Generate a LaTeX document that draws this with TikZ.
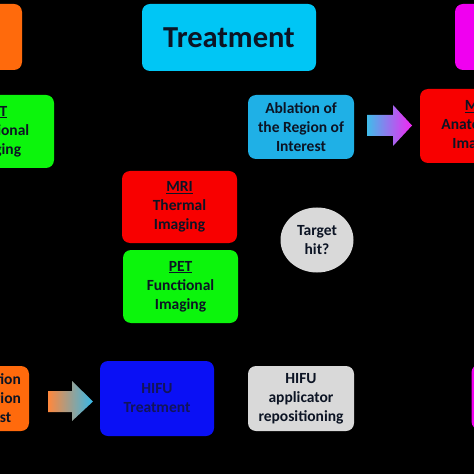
\documentclass[tikz,border=0pt]{standalone}
\usepackage{fontspec}
\setmainfont{Carlito}
\usetikzlibrary{shapes.geometric}

\definecolor{planorange}{HTML}{FF6A0C}
\definecolor{treatcyan}{HTML}{00C6F5}
\definecolor{evalmagenta}{HTML}{F000F0}
\definecolor{petgreen}{HTML}{0CF50C}
\definecolor{ablblue}{HTML}{1FB0E6}
\definecolor{mrired}{HTML}{F80000}
\definecolor{hifublue}{HTML}{0A10F5}
\definecolor{softgray}{HTML}{D9D9D9}
\definecolor{textdark}{HTML}{0C1424}
\definecolor{hifutext}{HTML}{12145A}

\tikzset{
    flow box/.style={
      rounded corners=8bp,
      align=center,
      inner sep=0pt,
      text=textdark,
      font=\bfseries\fontsize{15.5bp}{19bp}\selectfont
    },
    phase box/.style={
      flow box,
      font=\bfseries\fontsize{30.5bp}{35bp}\selectfont
    },
    check node/.style={
      ellipse,
      inner sep=0pt,
      text=textdark,
      align=center,
      font=\bfseries\fontsize{15.5bp}{19bp}\selectfont
    }
  }

\begin{document}
\begin{tikzpicture}[x=1bp,y=-1bp]
      \useasboundingbox (0,0) rectangle (474,474);
      \fill[black] (0,0) rectangle (474,474);
      \clip (0,0) rectangle (474,474);

      % Phasen
      \node[phase box, fill=planorange, minimum width=116bp, minimum height=66bp] (planbox) at (-36,37) {};
      \node[phase box, fill=treatcyan, minimum width=174bp, minimum height=67bp] (treat) at (229,37.5) {Treatment};
      \node[phase box, fill=evalmagenta, minimum width=116bp, minimum height=66bp] (evalbox) at (513,37) {};

      % Bildgebung
      \node[flow box, fill=petgreen, minimum width=117bp, minimum height=73bp] (petleft) at (-4.5,131.5) {\underline{PET}\\Functional\\Imaging};
      \node[flow box, fill=ablblue, minimum width=106bp, minimum height=64bp] (abl) at (301,127) {Ablation of\\the Region of\\Interest};
      \node[flow box, fill=mrired, minimum width=116bp, minimum height=74bp] (mrianat) at (478,126) {\underline{MRI}\\Anatomical\\Imaging};
      \node[flow box, fill=mrired, minimum width=115bp, minimum height=72bp] (mrith) at (179.5,207) {\underline{MRI}\\Thermal\\Imaging};
      \node[flow box, fill=petgreen, minimum width=115bp, minimum height=73bp] (petfn) at (180.5,286.5) {\underline{PET}\\Functional\\Imaging};
      \node[check node, fill=softgray, minimum width=73bp, minimum height=65bp] (target) at (317,240) {Target\\hit?};

      % Behandlung
      \node[flow box, fill=planorange, minimum width=102bp, minimum height=65bp] (locbox) at (-22,398.5) {Identification\\of the Region\\of Interest};
      \node[flow box, fill=hifublue, text=hifutext, minimum width=114bp, minimum height=75bp] (hifu) at (157,398.5) {HIFU\\Treatment};
      \node[flow box, fill=softgray, minimum width=106bp, minimum height=65bp] (repos) at (301,398.5) {HIFU\\applicator\\repositioning};
      \node[flow box, fill=evalmagenta, minimum width=116bp, minimum height=65bp] (evalbot) at (529.5,397) {};

      % Pfeile
      \shade[left color=ablblue!85, right color=evalmagenta!85] (367,115) -- (393,115) -- (393,105) -- (412,125.5) -- (393,146) -- (393,136) -- (367,136) -- cycle;
      \shade[left color=planorange!80, right color=ablblue!90] (48,391) -- (72,391) -- (72,381) -- (93,401.5) -- (72,421) -- (72,412) -- (48,412) -- cycle;
    \end{tikzpicture}
\end{document}
